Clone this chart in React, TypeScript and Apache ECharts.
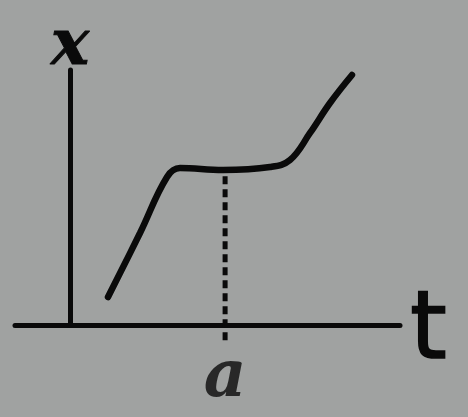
import React, { useEffect, useRef } from "react";
import * as echarts from "echarts";

const curveX = [0.691, 1.273, 1.764, 2.0, 2.782, 3.636, 4.0, 4.364, 4.727, 5.127];
const curveY = [0.549, 1.804, 2.902, 3.078, 3.039, 3.098, 3.235, 3.765, 4.353, 4.902];
const markT = 2.82;
const markX = 3.04;
const axisNames = { x: "t", y: "x", mark: "a" };

export default function App() {
  const ref = useRef<HTMLDivElement>(null);
  useEffect(() => {
    if (!ref.current) return;
    const chart = echarts.init(ref.current, null, { renderer: "svg" });
    chart.setOption({
      animation: false,
      backgroundColor: "#a0a2a1",
      grid: { left: 15, right: 68, top: 70, bottom: 92, outerBoundsMode: "none" },
      xAxis: {
        type: "value",
        min: -1,
        max: 6,
        name: axisNames.x,
        nameLocation: "end",
        nameGap: 10,
        nameTextStyle: {
          fontSize: 94,
          color: "#0a0a0a",
          fontFamily: "DejaVu Sans",
          verticalAlign: "middle",
          lineHeight: 94,
          textBorderColor: "#0a0a0a",
          textBorderWidth: 1.5,
        },
        axisLine: { onZero: false, lineStyle: { color: "#0a0a0a", width: 5 } },
        axisTick: { show: false },
        axisLabel: { show: false },
        splitLine: { show: false },
      },
      yAxis: {
        type: "value",
        min: 0,
        max: 5,
        name: axisNames.y,
        nameLocation: "end",
        nameGap: -3,
        nameTextStyle: {
          fontSize: 64,
          fontWeight: "bold",
          color: "#0a0a0a",
          fontFamily: "DejaVu Serif",
          fontStyle: "italic",
          align: "center",
          lineHeight: 64,
          textBorderColor: "#0a0a0a",
          textBorderWidth: 1,
        },
        axisLine: { onZero: true, lineStyle: { color: "#0a0a0a", width: 5 } },
        axisTick: { show: false },
        axisLabel: { show: false },
        splitLine: { show: false },
      },
      series: [
        {
          type: "line",
          data: curveX.map((v, i) => [v, curveY[i]]),
          smooth: 0.4,
          symbol: "none",
          lineStyle: { color: "#0a0a0a", width: 6.5, cap: "round" },
        },
        {
          type: "line",
          data: [
            [markT, -0.3],
            [markT, markX],
          ],
          clip: false,
          symbol: "none",
          lineStyle: { color: "#0a0a0a", width: 5, type: [8, 5] },
        },
        {
          type: "scatter",
          data: [[markT, 0]],
          symbolSize: 0,
          label: {
            show: true,
            formatter: axisNames.mark,
            position: "bottom",
            distance: 18,
            fontSize: 66,
            lineHeight: 60,
            fontWeight: "bold",
            color: "#0a0a0a",
            fontFamily: "DejaVu Serif",
            fontStyle: "italic",
          },
        },
      ],
    });
    return () => chart.dispose();
  }, []);
  return (
    <div
      ref={ref}
      style={{ position: "fixed", left: 0, top: 0, width: 468, height: 417 }}
    />
  );
}
